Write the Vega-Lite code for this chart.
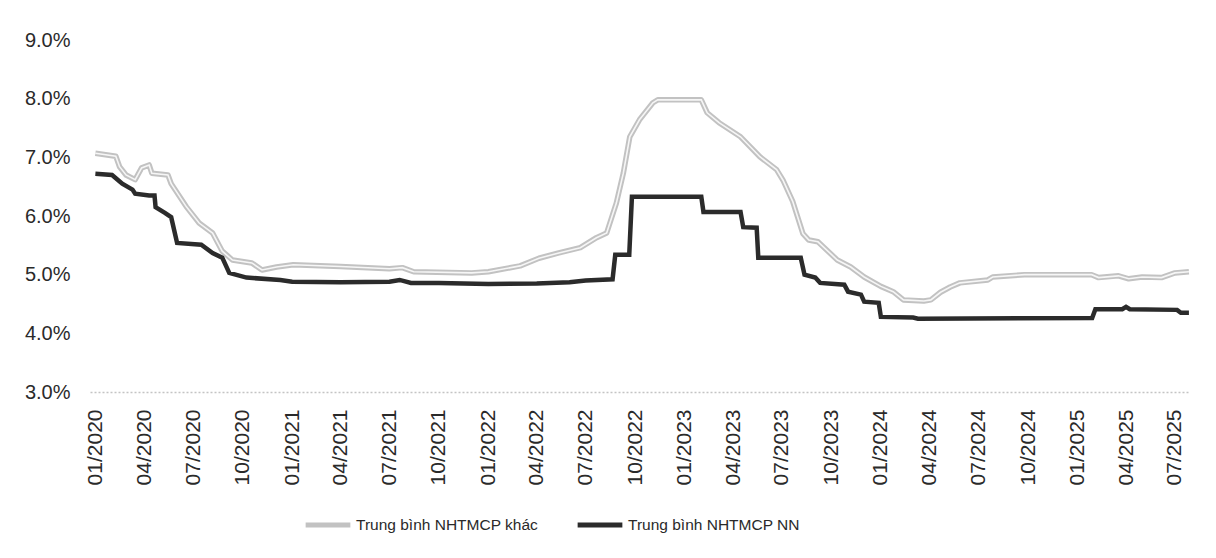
{
  "$schema": "https://vega.github.io/schema/vega-lite/v6.json",
  "width": 1100,
  "height": 352,
  "autosize": {"type": "none"},
  "padding": {"left": 90, "top": 40, "right": 26, "bottom": 166},
  "background": "white",
  "config": {
    "view": {"stroke": null},
    "font": "Liberation Sans"
  },
  "datasets": {
    "khac": [
      {"date": "2020-01-01", "value": 0.0707},
      {"date": "2020-02-08", "value": 0.0702},
      {"date": "2020-02-15", "value": 0.0684},
      {"date": "2020-02-27", "value": 0.0670},
      {"date": "2020-03-15", "value": 0.0662},
      {"date": "2020-03-27", "value": 0.0682},
      {"date": "2020-04-10", "value": 0.0687},
      {"date": "2020-04-15", "value": 0.0673},
      {"date": "2020-05-15", "value": 0.0670},
      {"date": "2020-05-21", "value": 0.0655},
      {"date": "2020-06-18", "value": 0.0616},
      {"date": "2020-07-12", "value": 0.0588},
      {"date": "2020-08-06", "value": 0.0571},
      {"date": "2020-08-24", "value": 0.0540},
      {"date": "2020-09-12", "value": 0.0525},
      {"date": "2020-10-18", "value": 0.0520},
      {"date": "2020-11-06", "value": 0.0508},
      {"date": "2020-12-03", "value": 0.0513},
      {"date": "2021-01-03", "value": 0.0517},
      {"date": "2021-04-01", "value": 0.0514},
      {"date": "2021-07-01", "value": 0.0510},
      {"date": "2021-07-25", "value": 0.0512},
      {"date": "2021-08-15", "value": 0.0505},
      {"date": "2021-12-01", "value": 0.0503},
      {"date": "2022-01-01", "value": 0.0505},
      {"date": "2022-03-01", "value": 0.0515},
      {"date": "2022-04-05", "value": 0.0528},
      {"date": "2022-05-12", "value": 0.0537},
      {"date": "2022-06-21", "value": 0.0546},
      {"date": "2022-07-21", "value": 0.0563},
      {"date": "2022-08-09", "value": 0.0571},
      {"date": "2022-08-27", "value": 0.0622},
      {"date": "2022-09-09", "value": 0.0673},
      {"date": "2022-09-21", "value": 0.0735},
      {"date": "2022-10-09", "value": 0.0764},
      {"date": "2022-11-03", "value": 0.0793},
      {"date": "2022-11-12", "value": 0.0798},
      {"date": "2023-02-01", "value": 0.0798},
      {"date": "2023-02-12", "value": 0.0776},
      {"date": "2023-03-06", "value": 0.0759},
      {"date": "2023-04-15", "value": 0.0735},
      {"date": "2023-05-21", "value": 0.0701},
      {"date": "2023-06-21", "value": 0.0679},
      {"date": "2023-07-03", "value": 0.0661},
      {"date": "2023-07-21", "value": 0.0625},
      {"date": "2023-08-09", "value": 0.0570},
      {"date": "2023-08-20", "value": 0.0559},
      {"date": "2023-09-06", "value": 0.0556},
      {"date": "2023-10-12", "value": 0.0525},
      {"date": "2023-11-06", "value": 0.0513},
      {"date": "2023-12-01", "value": 0.0496},
      {"date": "2024-01-01", "value": 0.0480},
      {"date": "2024-01-24", "value": 0.0471},
      {"date": "2024-02-12", "value": 0.0457},
      {"date": "2024-03-21", "value": 0.0455},
      {"date": "2024-04-03", "value": 0.0457},
      {"date": "2024-04-21", "value": 0.0470},
      {"date": "2024-05-09", "value": 0.0479},
      {"date": "2024-05-27", "value": 0.0486},
      {"date": "2024-07-18", "value": 0.0491},
      {"date": "2024-07-27", "value": 0.0496},
      {"date": "2024-09-24", "value": 0.0500},
      {"date": "2025-01-27", "value": 0.0500},
      {"date": "2025-02-09", "value": 0.0495},
      {"date": "2025-03-18", "value": 0.0498},
      {"date": "2025-04-06", "value": 0.0493},
      {"date": "2025-05-01", "value": 0.0496},
      {"date": "2025-06-06", "value": 0.0495},
      {"date": "2025-07-01", "value": 0.0503},
      {"date": "2025-07-27", "value": 0.0505}
    ],
    "nn": [
      {"date": "2020-01-01", "value": 0.0672},
      {"date": "2020-02-01", "value": 0.0670},
      {"date": "2020-02-20", "value": 0.0655},
      {"date": "2020-03-10", "value": 0.0645},
      {"date": "2020-03-15", "value": 0.0638},
      {"date": "2020-04-10", "value": 0.0635},
      {"date": "2020-04-20", "value": 0.0635},
      {"date": "2020-04-22", "value": 0.0615},
      {"date": "2020-05-10", "value": 0.0605},
      {"date": "2020-05-21", "value": 0.0598},
      {"date": "2020-06-01", "value": 0.0554},
      {"date": "2020-07-16", "value": 0.0551},
      {"date": "2020-08-06", "value": 0.0537},
      {"date": "2020-08-24", "value": 0.0529},
      {"date": "2020-09-06", "value": 0.0503},
      {"date": "2020-10-08", "value": 0.0495},
      {"date": "2020-12-10", "value": 0.0491},
      {"date": "2021-01-01", "value": 0.0488},
      {"date": "2021-04-01", "value": 0.0487},
      {"date": "2021-07-01", "value": 0.0488},
      {"date": "2021-07-20", "value": 0.0491},
      {"date": "2021-08-10", "value": 0.0486},
      {"date": "2021-10-01", "value": 0.0486},
      {"date": "2022-01-01", "value": 0.0484},
      {"date": "2022-04-01", "value": 0.0485},
      {"date": "2022-06-01", "value": 0.0487},
      {"date": "2022-07-01", "value": 0.0490},
      {"date": "2022-08-20", "value": 0.0492},
      {"date": "2022-08-25", "value": 0.0534},
      {"date": "2022-09-20", "value": 0.0534},
      {"date": "2022-09-25", "value": 0.0633},
      {"date": "2023-02-01", "value": 0.0633},
      {"date": "2023-02-05", "value": 0.0607},
      {"date": "2023-04-15", "value": 0.0607},
      {"date": "2023-04-20", "value": 0.0581},
      {"date": "2023-05-15", "value": 0.0580},
      {"date": "2023-05-18", "value": 0.0529},
      {"date": "2023-08-05", "value": 0.0529},
      {"date": "2023-08-12", "value": 0.0500},
      {"date": "2023-09-01", "value": 0.0495},
      {"date": "2023-09-10", "value": 0.0486},
      {"date": "2023-10-25", "value": 0.0483},
      {"date": "2023-11-01", "value": 0.0471},
      {"date": "2023-11-25", "value": 0.0466},
      {"date": "2023-12-01", "value": 0.0454},
      {"date": "2023-12-28", "value": 0.0452},
      {"date": "2024-01-01", "value": 0.0428},
      {"date": "2024-03-01", "value": 0.0427},
      {"date": "2024-03-10", "value": 0.0425},
      {"date": "2025-01-28", "value": 0.0426},
      {"date": "2025-02-03", "value": 0.0441},
      {"date": "2025-03-25", "value": 0.0441},
      {"date": "2025-04-01", "value": 0.0445},
      {"date": "2025-04-08", "value": 0.0441},
      {"date": "2025-07-05", "value": 0.0440},
      {"date": "2025-07-12", "value": 0.0435},
      {"date": "2025-07-27", "value": 0.0435}
    ]
  },
  "encoding": {
    "x": {
      "field": "date",
      "type": "temporal",
      "title": null,
      "scale": {"domain": [{"year": 2019, "month": 12, "date": 22}, {"year": 2025, "month": 7, "date": 29}]},
      "axis": {
        "format": "%m/%Y",
        "tickCount": {"interval": "month", "step": 3},
        "labelAngle": -90,
        "labelAlign": "right",
        "labelBaseline": "middle",
        "labelFontSize": 21,
        "labelColor": "#2a2a2a",
        "labelPadding": 17,
        "ticks": false,
        "tickSize": 0,
        "grid": false,
        "domainColor": "#c4c4c4",
        "domainDash": [2, 2],
        "domainWidth": 1.5,
        "labelOverlap": false,
        "labelFlush": false
      }
    },
    "y": {
      "field": "value",
      "type": "quantitative",
      "title": null,
      "scale": {"domain": [0.03, 0.09], "nice": false, "zero": false},
      "axis": {
        "values": [0.03, 0.04, 0.05, 0.06, 0.07, 0.08, 0.09],
        "format": ".1%",
        "labelFontSize": 20,
        "labelColor": "#2a2a2a",
        "labelPadding": 20,
        "ticks": false,
        "tickSize": 0,
        "domain": false,
        "grid": false
      }
    }
  },
  "layer": [
    {
      "data": {"name": "khac"},
      "transform": [{"calculate": "'Trung bình NHTMCP khác'", "as": "series"}],
      "mark": {"type": "line", "strokeWidth": 5.5, "strokeJoin": "round"},
      "encoding": {
        "color": {
          "field": "series",
          "type": "nominal",
          "scale": {"domain": ["Trung bình NHTMCP khác", "Trung bình NHTMCP NN"], "range": ["#c2c2c2", "#2b2b2b"]},
          "legend": {
            "title": null,
            "orient": "none",
            "legendX": 213,
            "legendY": 460,
            "direction": "horizontal",
            "symbolType": "stroke",
            "symbolSize": 2000,
            "symbolStrokeWidth": 5,
            "labelFont": "Liberation Sans",
            "labelFontSize": 15.5,
            "labelColor": "#2a2a2a",
            "labelOffset": 3,
            "columnPadding": 28,
            "labelLimit": 400
          }
        }
      }
    },
    {
      "data": {"name": "khac"},
      "mark": {"type": "line", "strokeWidth": 1.6, "color": "#ffffff", "opacity": 0.85},
      "encoding": {}
    },
    {
      "data": {"name": "nn"},
      "transform": [{"calculate": "'Trung bình NHTMCP NN'", "as": "series"}],
      "mark": {"type": "line", "strokeWidth": 4.5, "strokeJoin": "miter"},
      "encoding": {
        "color": {"field": "series", "type": "nominal"}
      }
    }
  ]
}
